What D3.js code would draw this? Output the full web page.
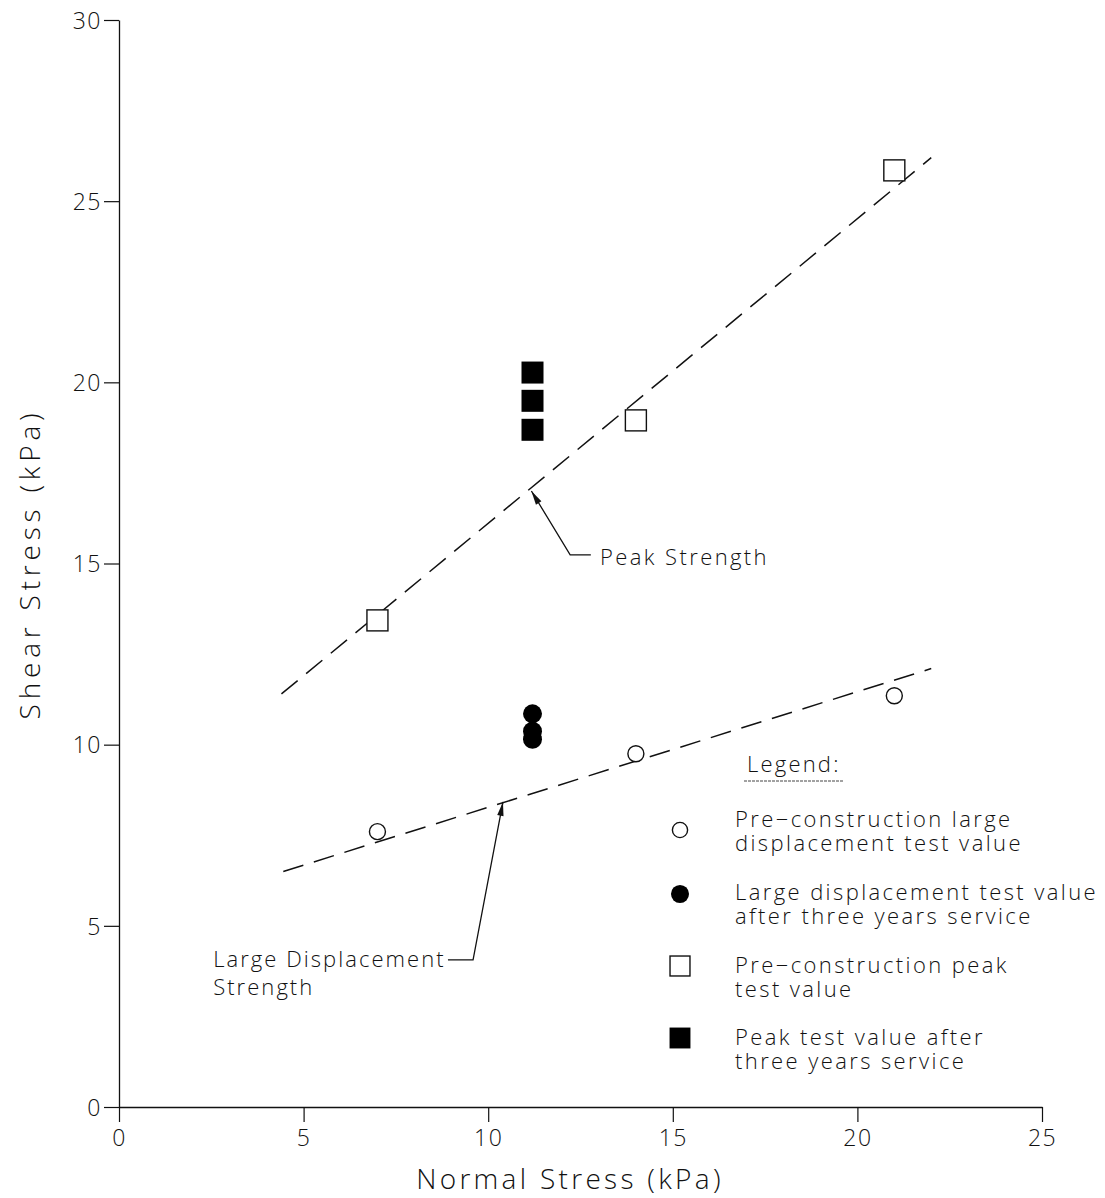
<!DOCTYPE html>
<html>
<head>
<meta charset="utf-8">
<script src="https://cdn.jsdelivr.net/npm/d3@7"></script>
<style>
  html, body { margin: 0; padding: 0; background: #fff; }
  svg text { font-family: "Open Sans", "DejaVu Sans", sans-serif; font-weight: 300; fill: #111; }
</style>
</head>
<body>
<svg id="chart" width="1105" height="1198"></svg>
<script>
// ---- data ----
const xTicks = [0, 5, 10, 15, 20, 25];
const yTicks = [0, 5, 10, 15, 20, 25, 30];

// Pre-construction large displacement test value (open circles)
const preLargeX = [7, 14, 21];
const preLargeY = [7.6, 9.75, 11.35];
// Large displacement test value after three years service (filled circles)
const postLargeX = [11.2, 11.2, 11.2];
const postLargeY = [10.85, 10.37, 10.15];
// Pre-construction peak test value (open squares)
const prePeakX = [7, 14, 21];
const prePeakY = [13.43, 18.95, 25.85];
// Peak test value after three years service (filled squares)
const postPeakX = [11.2, 11.2, 11.2];
const postPeakY = [20.27, 19.49, 18.69];

// Dashed strength envelopes (end points)
const peakLineX = [4.4, 22.0];
const peakLineY = [11.4, 26.2];
const largeLineX = [4.45, 22.0];
const largeLineY = [6.5, 12.1];

// Annotation leaders (data units): tip, elbow, end
const peakLeaderX = [11.17, 12.22, 12.78];
const peakLeaderY = [17.0, 15.24, 15.24];
const largeLeaderX = [10.40, 9.59, 8.91];
const largeLeaderY = [8.42, 4.06, 4.06];

const legendLabels = [
  ["Pre\u2212construction large", "displacement test value"],
  ["Large displacement test value", "after three years service"],
  ["Pre\u2212construction peak", "test value"],
  ["Peak test value after", "three years service"]
];
const legendSymbols = ["openCircle", "filledCircle", "openSquare", "filledSquare"];

// ---- chart ----
const svg = d3.select("#chart");
const x = d3.scaleLinear().domain([0, 25]).range([119, 1042]);
const y = d3.scaleLinear().domain([0, 30]).range([1107, 20]);

const gx = svg.append("g").attr("transform", `translate(0,${y(0)})`)
  .call(d3.axisBottom(x).tickValues(xTicks).tickSize(15).tickSizeOuter(0).tickPadding(3).tickFormat(d3.format("d")));
const gy = svg.append("g").attr("transform", `translate(${x(0)},0)`)
  .call(d3.axisLeft(y).tickValues(yTicks).tickSize(15).tickSizeOuter(0).tickPadding(2).tickFormat(d3.format("d")));
[gx, gy].forEach(g => {
  g.select(".domain").attr("stroke", "#111").attr("stroke-width", 1.3);
  g.selectAll(".tick line").attr("stroke", "#111").attr("stroke-width", 1.2);
  g.selectAll(".tick text").attr("fill", "#111").style("font-size", "23px")
    .style("letter-spacing", "1.5px").style("font-family", null);
});
gy.selectAll(".tick text").attr("dy", "0.36em");
gx.selectAll(".tick text").attr("dy", "0.9em");

// axis titles
svg.append("text").attr("x", 570).attr("y", 1189).attr("text-anchor", "middle")
  .style("font-size", "28px").style("letter-spacing", "3.3px").text("Normal Stress (kPa)");
svg.append("text").attr("transform", "translate(40,564) rotate(-90)").attr("text-anchor", "middle")
  .style("font-size", "28px").style("letter-spacing", "4.8px").text("Shear Stress (kPa)");

// dashed envelopes
const line = d3.line().x(d => x(d[0])).y(d => y(d[1]));
[[peakLineX, peakLineY], [largeLineX, largeLineY]].forEach(([xs, ys]) => {
  svg.append("path").datum(xs.map((v, i) => [v, ys[i]]))
    .attr("d", line).attr("fill", "none").attr("stroke", "#111")
    .attr("stroke-width", 1.5).attr("stroke-dasharray", "21,11");
});

// markers
function drawSymbol(g, type, cx, cy, scale) {
  const s = scale || 1;
  if (type === "openCircle") {
    g.append("circle").attr("cx", cx).attr("cy", cy).attr("r", 8 * s)
      .attr("fill", "#fff").attr("stroke", "#111").attr("stroke-width", 1.4);
  } else if (type === "filledCircle") {
    g.append("circle").attr("cx", cx).attr("cy", cy).attr("r", 9.5 * s).attr("fill", "#000");
  } else if (type === "openSquare") {
    const h = 10.5 * s;
    g.append("rect").attr("x", cx - h).attr("y", cy - h).attr("width", 2 * h).attr("height", 2 * h)
      .attr("fill", "#fff").attr("stroke", "#111").attr("stroke-width", 1.4);
  } else {
    const h = 11 * s;
    g.append("rect").attr("x", cx - h).attr("y", cy - h).attr("width", 2 * h).attr("height", 2 * h).attr("fill", "#000");
  }
}
const marks = svg.append("g");
preLargeX.forEach((v, i) => drawSymbol(marks, "openCircle", x(v), y(preLargeY[i])));
postLargeX.forEach((v, i) => drawSymbol(marks, "filledCircle", x(v), y(postLargeY[i])));
prePeakX.forEach((v, i) => drawSymbol(marks, "openSquare", x(v), y(prePeakY[i])));
postPeakX.forEach((v, i) => drawSymbol(marks, "filledSquare", x(v), y(postPeakY[i])));

// annotation leaders with arrowheads
function leader(xs, ys) {
  const pts = xs.map((v, i) => [x(v), y(ys[i])]);
  svg.append("path").attr("d", d3.line()(pts)).attr("fill", "none")
    .attr("stroke", "#111").attr("stroke-width", 1.3);
  const [tx, ty] = pts[0], [bx, by] = pts[1];
  const ang = Math.atan2(by - ty, bx - tx);
  const L = 14, W = 3.2;
  const ux = Math.cos(ang), uy = Math.sin(ang);
  const p1 = [tx + ux * L - uy * W, ty + uy * L + ux * W];
  const p2 = [tx + ux * L + uy * W, ty + uy * L - ux * W];
  svg.append("path").attr("d", `M${tx},${ty}L${p1[0]},${p1[1]}L${p2[0]},${p2[1]}Z`).attr("fill", "#111");
}
leader(peakLeaderX, peakLeaderY);
leader(largeLeaderX, largeLeaderY);

const LS = "2.4px";
svg.append("text").attr("x", x(13.03)).attr("y", y(14.96))
  .style("font-size", "22px").style("letter-spacing", LS).text("Peak Strength");
svg.append("text").attr("x", x(2.55)).attr("y", y(3.86))
  .style("font-size", "22px").style("letter-spacing", "2.05px").text("Large Displacement");
svg.append("text").attr("x", x(2.55)).attr("y", y(3.86) + 28)
  .style("font-size", "22px").style("letter-spacing", "2.05px").text("Strength");

// legend
const lg = svg.append("g");
lg.append("text").attr("x", 747).attr("y", 772).style("font-size", "22px")
  .style("letter-spacing", "2.2px").text("Legend:");
lg.append("line").attr("x1", 744).attr("x2", 843).attr("y1", 781).attr("y2", 781)
  .attr("stroke", "#444").attr("stroke-width", 1).attr("stroke-dasharray", "3,1");
const itemBase = [827, 900, 973, 1045];
const symY = [830, 894, 966, 1038];
legendLabels.forEach((lines, i) => {
  drawSymbol(lg, legendSymbols[i], 680, symY[i], 0.95);
  lines.forEach((t, j) => {
    lg.append("text").attr("x", 735).attr("y", itemBase[i] + j * 24)
      .style("font-size", "22px").style("letter-spacing", LS).text(t);
  });
});
</script>
</body>
</html>
